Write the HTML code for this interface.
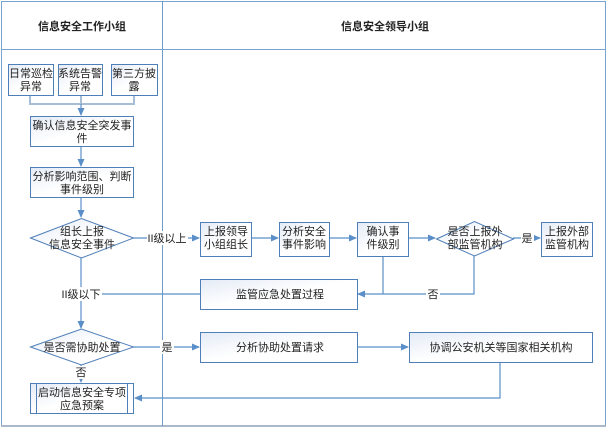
<!DOCTYPE html>
<html><head><meta charset="utf-8"><style>
body{margin:0;background:#fff}
svg text{font-family:"Liberation Sans","Noto Sans CJK SC",sans-serif;font-size:11px;fill:#222}
</style></head><body>
<svg width="609" height="430" viewBox="0 0 609 430" xmlns="http://www.w3.org/2000/svg">
<defs>
<linearGradient id="g" x1="0" y1="0" x2="1" y2="1"><stop offset="0" stop-color="#e4ebf6"/><stop offset="0.5" stop-color="#ffffff"/><stop offset="1" stop-color="#ffffff"/></linearGradient>
<marker id="a" markerWidth="8" markerHeight="8" refX="7" refY="4" orient="auto" markerUnits="userSpaceOnUse"><path d="M0,0.5 L8,4 L0,7.5 z" fill="#5b8fc9"/></marker>
</defs>
<!-- frame -->
<rect x="1.5" y="1.5" width="604" height="424" fill="none" stroke="#7aa3cf" stroke-width="1"/>
<line x1="1" y1="426" x2="606" y2="426" stroke="#a9b9cb" stroke-width="2"/>
<line x1="162.5" y1="1" x2="162.5" y2="426" stroke="#6f9bcb" stroke-width="1"/>
<line x1="1" y1="49.5" x2="606" y2="49.5" stroke="#7aa3cf" stroke-width="1"/>
<text x="82" y="30" text-anchor="middle" font-weight="bold">信息安全工作小组</text>
<text x="385" y="30" text-anchor="middle" font-weight="bold">信息安全领导小组</text>

<g fill="none" stroke="#a7bdd6" stroke-width="2">
<polyline points="30,95 30,104 134,104 134,95"/>
<line x1="81" y1="95" x2="81" y2="104"/>
</g>
<g fill="none" stroke="#5b8fc9" stroke-width="1.2">
<line x1="81" y1="104" x2="81" y2="115" marker-end="url(#a)"/>
<line x1="81" y1="146" x2="81" y2="166" marker-end="url(#a)"/>
<line x1="81" y1="197" x2="81" y2="217" marker-end="url(#a)"/>
<line x1="133" y1="238" x2="199" y2="238" marker-end="url(#a)"/>
<line x1="251" y1="238" x2="278" y2="238" marker-end="url(#a)"/>
<line x1="329" y1="238" x2="356" y2="238" marker-end="url(#a)"/>
<line x1="408" y1="238" x2="435" y2="238" marker-end="url(#a)"/>
<line x1="513" y1="238" x2="540" y2="238" marker-end="url(#a)"/>
<polyline points="474,256 474,294 358,294" marker-end="url(#a)"/>
<line x1="383" y1="256" x2="383" y2="294"/>
<line x1="81" y1="258" x2="81" y2="328" marker-end="url(#a)"/>
<line x1="81" y1="294" x2="200" y2="294"/>
<line x1="133" y1="347" x2="199" y2="347" marker-end="url(#a)"/>
<line x1="357" y1="347" x2="408" y2="347" marker-end="url(#a)"/>
<line x1="81" y1="365" x2="81" y2="382" marker-end="url(#a)"/>
<polyline points="500,362 500,398 135,398" marker-end="url(#a)"/>
</g>

<g stroke="#4f7fb8" stroke-width="1" fill="url(#g)">
<rect x="8.5" y="64.5" width="45" height="31"/>
<rect x="58.5" y="64.5" width="44" height="31"/>
<rect x="111.5" y="64.5" width="46" height="31"/>
<rect x="30.5" y="116.5" width="103" height="30"/>
<rect x="30.5" y="167.5" width="103" height="30"/>
<polygon points="30.5,238 81.5,218.5 133.5,238 81.5,258"/>
<rect x="200.5" y="222.5" width="51" height="34"/>
<rect x="279.5" y="222.5" width="50" height="34"/>
<rect x="357.5" y="222.5" width="51" height="34"/>
<polygon points="436.5,239 474.5,221.5 513.5,239 474.5,256"/>
<rect x="541.5" y="222.5" width="51" height="34"/>
<rect x="200.5" y="279.5" width="157" height="30"/>
<polygon points="30.5,347 81.5,329 133.5,347 81.5,365"/>
<rect x="200.5" y="332.5" width="157" height="30"/>
<rect x="409.5" y="332.5" width="183" height="30"/>
<rect x="30.5" y="383.5" width="103" height="30"/>
</g>
<line x1="36.5" y1="384" x2="36.5" y2="413" stroke="#4f7fb8"/>
<line x1="127.5" y1="384" x2="127.5" y2="413" stroke="#4f7fb8"/>

<g text-anchor="middle">
<text x="31" y="77">日常巡检</text><text x="31" y="90">异常</text>
<text x="80" y="77">系统告警</text><text x="80" y="90">异常</text>
<text x="134" y="77">第三方披</text><text x="134" y="90">露</text>
<text x="82" y="129">确认信息安全突发事</text><text x="82" y="142">件</text>
<text x="82" y="180">分析影响范围、判断</text><text x="82" y="193">事件级别</text>
<text x="82" y="235">组长上报</text><text x="82" y="248">信息安全事件</text>
<text x="226" y="235">上报领导</text><text x="226" y="248">小组组长</text>
<text x="304" y="235">分析安全</text><text x="304" y="248">事件影响</text>
<text x="383" y="235">确认事</text><text x="383" y="248">件级别</text>
<text x="475" y="235">是否上报外</text><text x="475" y="248">部监管机构</text>
<text x="567" y="235">上报外部</text><text x="567" y="248">监管机构</text>
<text x="280" y="298">监管应急处置过程</text>
<text x="82" y="351">是否需协助处置</text>
<text x="280" y="351">分析协助处置请求</text>
<text x="501" y="351">协调公安机关等国家相关机构</text>
<text x="82" y="396">启动信息安全专项</text><text x="82" y="409">应急预案</text>
</g>
<g text-anchor="middle">
<rect x="147" y="231" width="41" height="14" fill="#fff"/><text x="167" y="242">II级以上</text>
<rect x="61" y="287" width="41" height="14" fill="#fff"/><text x="81" y="298">II级以下</text>
<rect x="521" y="231" width="13" height="14" fill="#fff"/><text x="527" y="242">是</text>
<rect x="426" y="287" width="14" height="14" fill="#fff"/><text x="433" y="298">否</text>
<rect x="160" y="340" width="14" height="14" fill="#fff"/><text x="167" y="351">是</text>
<rect x="75" y="366" width="13" height="13" fill="#fff"/><text x="81" y="376">否</text>
</g>
</svg>
</body></html>
